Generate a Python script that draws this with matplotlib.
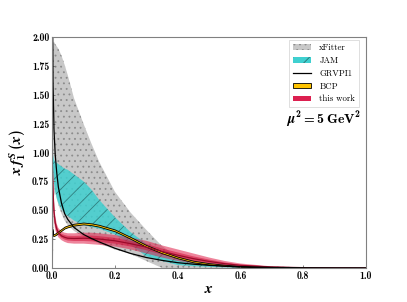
import matplotlib
matplotlib.use('Agg')
import matplotlib.pyplot as plt
from matplotlib.patches import Patch
from matplotlib.lines import Line2D

plt.rcParams['mathtext.fontset'] = 'custom'
plt.rcParams['mathtext.rm'] = 'cmb10'
plt.rcParams['mathtext.bf'] = 'cmb10'
plt.rcParams['mathtext.it'] = 'STIXGeneral:italic:bold'
plt.rcParams['hatch.linewidth'] = 0.6

# x grid shared by all the curves
x = [0.001, 0.003, 0.006, 0.01, 0.015, 0.02, 0.03, 0.04, 0.05, 0.07, 0.1, 0.125, 0.15,
     0.2, 0.25, 0.3, 0.35, 0.4, 0.45, 0.5, 0.55, 0.6, 0.7, 0.8, 0.9, 1.0]

# xFitter band
xf_up = [1.80, 1.95, 1.96, 1.94, 1.92, 1.90, 1.84, 1.76, 1.67, 1.47, 1.25, 1.08, 0.92,
         0.66, 0.48, 0.33, 0.19, 0.09, 0.05, 0.032, 0.024, 0.018, 0.011, 0.006, 0.003, 0.0]
xf_lo = [-0.1, 0.1, 0.62, 0.66, 0.60, 0.55, 0.47, 0.41, 0.37, 0.32, 0.27, 0.24, 0.21,
         0.16, 0.12, 0.06, 0.0, -0.03, -0.04, -0.04, -0.035, -0.03, -0.02, -0.01, -0.005, 0.0]

# JAM band
jam_up = [1.05, 0.98, 0.94, 0.92, 0.91, 0.90, 0.88, 0.86, 0.85, 0.81, 0.75, 0.68, 0.59,
          0.44, 0.31, 0.21, 0.14, 0.09, 0.06, 0.04, 0.025, 0.016, 0.006, 0.002, 0.0005, 0.0]
jam_lo = [0.95, 0.85, 0.74, 0.66, 0.60, 0.56, 0.51, 0.47, 0.45, 0.41, 0.37, 0.355, 0.34,
          0.29, 0.20, 0.10, 0.06, 0.025, 0.015, 0.009, 0.005, 0.003, 0.001, 0.0, 0.0, 0.0]

# GRVPI1
grv = [2.5, 1.6, 1.2, 0.98, 0.82, 0.70, 0.56, 0.47, 0.42, 0.35, 0.29, 0.255, 0.225,
       0.17, 0.125, 0.09, 0.065, 0.045, 0.032, 0.022, 0.015, 0.01, 0.004, 0.0012, 0.0002, 0.0]

# BCP
bcp_up = [0.338, 0.293, 0.293, 0.298, 0.308, 0.318, 0.338, 0.358, 0.368, 0.383, 0.393, 0.386, 0.373,
          0.333, 0.268, 0.198, 0.143, 0.097, 0.062, 0.041, 0.027, 0.017, 0.008, 0.003, 0.001, 0.0]
bcp_lo = [0.322, 0.277, 0.277, 0.282, 0.292, 0.302, 0.322, 0.342, 0.352, 0.367, 0.377, 0.370, 0.357,
          0.317, 0.252, 0.182, 0.127, 0.083, 0.048, 0.029, 0.017, 0.009, 0.002, 0.0, 0.0, 0.0]

# this work: outer band, inner band, central value
tw_up = [1.05, 0.80, 0.58, 0.45, 0.38, 0.345, 0.315, 0.305, 0.30, 0.30, 0.305, 0.305, 0.30,
         0.285, 0.262, 0.235, 0.195, 0.16, 0.125, 0.09, 0.06, 0.038, 0.013, 0.004, 0.001, 0.0]
tw_lo = [0.78, 0.55, 0.40, 0.33, 0.29, 0.265, 0.24, 0.225, 0.215, 0.21, 0.21, 0.205, 0.20,
         0.185, 0.16, 0.125, 0.09, 0.06, 0.038, 0.023, 0.013, 0.007, 0.002, 0.0005, 0.0001, 0.0]
tw_in_up = [0.96, 0.72, 0.53, 0.42, 0.36, 0.325, 0.295, 0.285, 0.278, 0.277, 0.28, 0.28, 0.275,
            0.26, 0.235, 0.207, 0.168, 0.134, 0.10, 0.072, 0.047, 0.029, 0.01, 0.003, 0.0007, 0.0]
tw_in_lo = [0.84, 0.62, 0.45, 0.36, 0.31, 0.285, 0.26, 0.245, 0.237, 0.233, 0.233, 0.23, 0.225,
            0.21, 0.185, 0.153, 0.116, 0.086, 0.06, 0.04, 0.025, 0.015, 0.004, 0.0012, 0.0003, 0.0]
tw_c = [0.90, 0.67, 0.49, 0.39, 0.335, 0.305, 0.277, 0.265, 0.257, 0.255, 0.257, 0.255, 0.25,
        0.235, 0.21, 0.18, 0.142, 0.11, 0.08, 0.056, 0.036, 0.022, 0.007, 0.002, 0.0005, 0.0]

fig = plt.figure(figsize=(4.07, 3.02), dpi=100)
ax = fig.add_axes([0.128, 0.113, 0.771, 0.764])

ax.fill_between(x, xf_lo, xf_up, facecolor='#c8c8c8', edgecolor='#8c8c8c', hatch='...', linewidth=0)
ax.fill_between(x, jam_lo, jam_up, facecolor='#3fd0d0', alpha=0.85, edgecolor='#2a7070', hatch='//', linewidth=0)
ax.fill_between(x, tw_lo, tw_up, facecolor='#e0204a', alpha=0.55, linewidth=0)
ax.fill_between(x, tw_in_lo, tw_in_up, facecolor='#d0103a', alpha=0.55, linewidth=0)
ax.plot(x, tw_c, color='#9a0a2a', lw=0.9)
ax.plot(x, grv, color='black', lw=0.9)
ax.fill_between(x, bcp_lo, bcp_up, facecolor='#ffc400', edgecolor='black', linewidth=0.6)

ax.set_xlim(0, 1)
ax.set_ylim(0, 2)
ax.set_xticks([0.0, 0.2, 0.4, 0.6, 0.8, 1.0])
ax.set_yticks([0.0, 0.25, 0.5, 0.75, 1.0, 1.25, 1.5, 1.75, 2.0])
ax.set_xticklabels(['0.0', '0.2', '0.4', '0.6', '0.8', '1.0'], fontfamily='cmb10', fontsize=7)
ax.set_yticklabels(['0.00', '0.25', '0.50', '0.75', '1.00', '1.25', '1.50', '1.75', '2.00'],
                   fontfamily='cmb10', fontsize=7)
ax.tick_params(direction='in', length=2.5, width=0.6, color='#707070', pad=2)
for s in ax.spines.values():
    s.set_color('#808080')
    s.set_linewidth(0.8)

ax.set_xlabel('$x$', fontsize=11, labelpad=0)
ax.set_ylabel('$x\\,f_1^S\\,(x)$', fontsize=11, labelpad=3)

handles = [Patch(facecolor='#c8c8c8', edgecolor='#8c8c8c', hatch='...', linewidth=0),
           Patch(facecolor='#3fd0d0', edgecolor='#2a7070', hatch='//', linewidth=0),
           Line2D([], [], color='black', lw=0.9),
           Patch(facecolor='#ffc400', edgecolor='black', linewidth=0.6),
           Patch(facecolor='#dc2050', edgecolor='none')]
labels = ['xFitter', 'JAM', 'GRVPI1', 'BCP', 'this work']
leg = ax.legend(handles, labels, loc='upper right', prop={'family': 'cmr10', 'size': 6.3},
                frameon=True, fancybox=False, edgecolor='#d0d0d0', handlelength=2.1,
                handleheight=0.6, borderpad=0.45, labelspacing=0.5, handletextpad=0.9,
                borderaxespad=0, bbox_to_anchor=(0.978, 0.988))
leg.get_frame().set_linewidth(0.6)

ax.text(0.865, 0.645, '$\\mu^2 = 5\\ \\mathrm{GeV}^2$', transform=ax.transAxes, ha='center',
        va='center', fontsize=10)

fig.savefig('out.png', dpi=100)
